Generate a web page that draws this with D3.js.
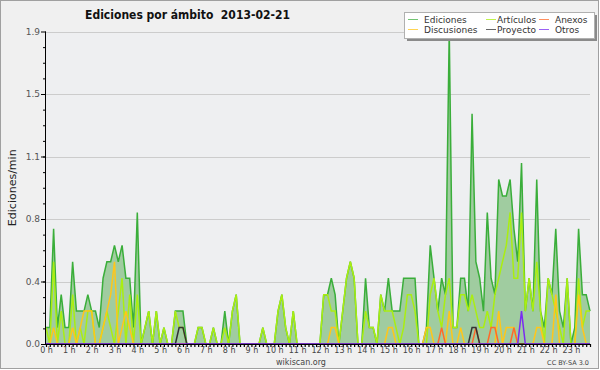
<!DOCTYPE html>
<html>
<head>
<meta charset="utf-8">
<script src="https://cdn.jsdelivr.net/npm/d3@7/dist/d3.min.js"></script>
<style>
  body { margin: 0; background: #fff; }
  text { font-family: "DejaVu Sans", sans-serif; }
</style>
</head>
<body>
<div id="chart"></div>
<script>
// one value every 10 minutes, edits per minute
var hours = ["0 h","1 h","2 h","3 h","4 h","5 h","6 h","7 h","8 h","9 h","10 h","11 h",
             "12 h","13 h","14 h","15 h","16 h","17 h","18 h","19 h","20 h","21 h","22 h","23 h"];

var ediciones = [
  0.1,0.1,0.7,0.1,0.3,0.1,0.1,0.5,0.2,0.2,0.2,0.3,
  0.2,0.2,0.1,0.4,0.5,0.5,0.6,0.5,0.6,0.4,0.4,0.1,
  0.8,0,0.1,0.2,0,0.2,0,0.1,0,0,0.2,0.2,
  0.2,0,0,0,0.1,0.1,0,0,0.1,0,0,0.2,
  0,0.2,0.3,0,0,0,0,0,0,0.1,0,0,
  0,0.2,0.3,0.1,0,0.2,0,0,0,0,0,0,
  0,0.3,0.3,0.4,0.3,0,0.2,0.4,0.5,0.4,0,0,
  0.4,0.1,0.1,0,0.3,0.2,0.4,0.2,0.2,0.2,0.4,0.4,
  0.4,0.4,0,0,0.1,0.6,0.4,0.2,0.4,0.3,1.9,0.1,
  0.1,0.4,0.4,0.2,1.4,0.5,0.4,0.2,0.8,0.4,0.3,1.0,
  0.9,0.9,1.0,0.7,0.5,1.1,0.2,0.4,0.2,1.0,0.2,0.1,
  0.4,0.3,0.7,0.2,0.1,0.4,0,0.1,0.7,0.3,0.3,0.2
];
var articulos = [
  0.1,0,0.5,0,0.2,0,0,0.3,0,0.1,0,0.2,
  0.2,0,0,0.1,0.2,0.1,0,0.2,0.4,0,0.3,0,
  0.3,0,0.1,0.2,0,0.2,0,0.1,0,0,0.2,0.1,
  0.1,0,0,0,0.1,0.1,0,0,0.1,0,0,0.1,
  0,0.2,0.3,0,0,0,0,0,0,0.1,0,0,
  0,0.2,0.3,0.1,0,0.2,0,0,0,0,0,0,
  0,0.3,0.3,0.2,0.2,0,0.2,0.4,0.5,0.4,0,0,
  0.2,0.1,0.1,0,0.3,0.2,0.2,0.2,0.1,0,0.1,0.3,
  0.3,0.2,0,0,0,0.3,0.4,0.2,0.1,0.3,0.4,0.1,
  0.1,0.3,0.3,0.2,0.3,0.2,0.1,0.1,0.2,0.1,0.3,0.4,
  0.5,0.6,0.8,0.4,0.4,0.8,0.2,0.4,0.2,0.5,0.2,0,
  0.4,0.3,0.2,0.1,0,0.4,0,0,0.4,0.1,0.2,0.2
];
var discusiones = [
  0,0,0.1,0,0,0,0,0.1,0,0.1,0.2,0.2,
  0.2,0,0,0.1,0.2,0.3,0.5,0,0.1,0.2,0.1,0,
  0,0,0,0,0,0,0,0,0,0,0,0,
  0,0,0,0,0,0,0,0,0,0,0,0,
  0,0,0,0,0,0,0,0,0,0,0,0,
  0,0,0,0,0,0,0,0,0,0,0,0,
  0,0,0,0.1,0.1,0,0,0,0,0,0,0,
  0,0,0,0,0,0,0.1,0.1,0,0,0,0,
  0,0,0,0,0.1,0.1,0,0,0,0,0.2,0,
  0,0.1,0,0,0,0,0,0,0,0,0,0.2,
  0,0.1,0.1,0.1,0,0,0,0,0,0.1,0.1,0,
  0,0,0.3,0,0,0,0,0,0.3,0.1,0,0
];
var anexos = [
  0,0,0,0,0,0,0,0,0,0,0,0,
  0,0,0,0,0,0,0,0,0,0,0,0,
  0,0,0,0,0,0,0,0,0,0,0,0,
  0,0,0,0,0,0,0,0,0,0,0,0,
  0,0,0,0,0,0,0,0,0,0,0,0,
  0,0,0,0,0,0,0,0,0,0,0,0,
  0,0,0,0,0,0,0,0,0,0,0,0,
  0,0,0,0,0,0,0,0,0,0,0,0,
  0,0,0,0,0,0,0,0,0.1,0,0,0,
  0,0,0,0,0,0.1,0,0,0,0.1,0.1,0,
  0,0,0,0.1,0,0,0,0,0,0,0,0,
  0,0,0,0,0,0,0,0,0,0,0,0
];
var proyecto = [
  0,0,0,0,0,0,0,0,0,0,0,0,
  0,0,0,0,0,0,0,0,0,0,0,0,
  0,0,0,0,0,0,0,0,0,0,0,0.1,
  0.1,0,0,0,0,0,0,0,0,0,0,0,
  0,0,0,0,0,0,0,0,0,0,0,0,
  0,0,0,0,0,0,0,0,0,0,0,0,
  0,0,0,0,0,0,0,0,0,0,0,0,
  0,0,0,0,0,0,0,0,0,0,0,0,
  0,0,0,0,0,0,0,0,0,0,0,0,
  0,0,0,0,0.1,0.1,0,0,0,0,0,0,
  0,0,0,0,0,0,0,0,0,0,0,0,
  0,0,0,0,0,0,0,0,0,0,0,0
];
var otros = [
  0,0,0,0,0,0,0,0,0,0,0,0,
  0,0,0,0,0,0,0,0,0,0,0,0,
  0,0,0,0,0,0,0,0,0,0,0,0,
  0,0,0,0,0,0,0,0,0,0,0,0,
  0,0,0,0,0,0,0,0,0,0,0,0,
  0,0,0,0,0,0,0,0,0,0,0,0,
  0,0,0,0,0,0,0,0,0,0,0,0,
  0,0,0,0,0,0,0,0,0,0,0,0,
  0,0,0,0,0,0,0,0,0,0,0,0,
  0,0,0,0,0,0,0,0,0,0,0,0,
  0,0,0,0,0,0.2,0,0,0,0,0,0,
  0,0,0,0,0,0,0,0,0,0,0,0
];
var yTicks = [0, 0.38, 0.76, 1.14, 1.52, 1.9];

var series = [
  {name: "Artículos",   values: articulos,   color: "#aaee11"},
  {name: "Discusiones", values: discusiones, color: "#ffc61a"},
  {name: "Anexos",      values: anexos,      color: "#ff6a2a"},
  {name: "Proyecto",    values: proyecto,    color: "#333333"},
  {name: "Otros",       values: otros,       color: "#7a2cf0"}
];
// legend order, three columns
var legendItems = [
  {name: "Ediciones",   color: "#44b044"},
  {name: "Discusiones", color: "#ffc61a"},
  {name: "Artículos",   color: "#aaee11"},
  {name: "Proyecto",    color: "#333333"},
  {name: "Anexos",      color: "#ff6a2a"},
  {name: "Otros",       color: "#7a2cf0"}
];


EditChart = function(_parentElement){
  this.parentElement = _parentElement;
  this.initVis();
}

EditChart.prototype.initVis = function() {
  var vis = this;

  vis.width = 600;
  vis.height = 370;
  vis.left = 46; vis.right = 590; vis.top = 31.5; vis.bottom = 344;

  vis.svg = d3.select("#" + vis.parentElement).append("svg")
    .attr("width", vis.width)
    .attr("height", vis.height);

  vis.svg.append("rect")
    .attr("x", 0.5).attr("y", 0.5)
    .attr("width", 598).attr("height", 368)
    .attr("fill", "#f0f0f0")
    .attr("stroke", "#a0a0a0");

  vis.x = d3.scaleLinear().domain([0, ediciones.length - 1]).range([vis.left, vis.right]);
  vis.y = d3.scaleLinear().domain([0, 1.9]).range([vis.bottom, vis.top]);

  vis.svg.append("rect")
    .attr("x", vis.left).attr("y", vis.top)
    .attr("width", vis.right - vis.left).attr("height", vis.bottom - vis.top)
    .attr("fill", "#eeeff1");

  // grid
  vis.svg.append("g").selectAll("line")
    .data(yTicks.slice(1))
    .enter().append("line")
    .attr("x1", vis.left).attr("x2", vis.right)
    .attr("y1", function(d){ return Math.round(vis.y(d)) + 0.5; })
    .attr("y2", function(d){ return Math.round(vis.y(d)) + 0.5; })
    .attr("stroke", "#cccccc");

  var area = d3.area()
    .x(function(d, i){ return vis.x(i); })
    .y0(vis.y(0))
    .y1(function(d){ return vis.y(d); });

  var line = d3.line()
    .x(function(d, i){ return vis.x(i); })
    .y(function(d){ return vis.y(d); });

  vis.svg.append("path")
    .datum(ediciones)
    .attr("d", area)
    .attr("fill", "#a0cca0");

  vis.svg.append("path")
    .datum(ediciones)
    .attr("d", line)
    .attr("fill", "none")
    .attr("stroke", "#3aae3a")
    .attr("stroke-width", 1.5);

  vis.svg.append("g").selectAll("path")
    .data(series)
    .enter().append("path")
    .attr("d", function(d){ return line(d.values); })
    .attr("fill", "none")
    .attr("stroke", function(d){ return d.color; })
    .attr("stroke-width", 1.5);

  // y axis
  var yAxis = d3.axisLeft(vis.y)
    .tickValues(yTicks)
    .tickSize(5)
    .tickPadding(1)
    .tickFormat(d3.format(".1f"));
  var yMinor = d3.axisLeft(vis.y)
    .tickValues(d3.range(0, 1.9, 0.095))
    .tickSize(3)
    .tickFormat("");

  vis.svg.append("g")
    .attr("transform", "translate(" + vis.left + ",0)")
    .call(yMinor)
    .call(function(g){ g.select(".domain").remove(); });
  var gy = vis.svg.append("g")
    .attr("transform", "translate(" + vis.left + ",0)")
    .call(yAxis);
  gy.select(".domain").attr("d", "M-0.5," + vis.top + "V" + vis.bottom);
  gy.selectAll("text").attr("font-size", 9).attr("fill", "#555")
    .attr("font-family", "DejaVu Sans");

  // x axis, one tick per 10 minutes
  var xAxis = d3.axisBottom(vis.x)
    .tickValues(d3.range(0, ediciones.length))
    .tickSize(3)
    .tickPadding(0)
    .tickFormat(function(d){ return d % 6 === 0 ? hours[d / 6] : ""; });
  var gx = vis.svg.append("g")
    .attr("transform", "translate(0," + vis.bottom + ")")
    .call(xAxis);
  gx.select(".domain").attr("d", "M" + vis.left + ",0.5H" + vis.right);
  gx.selectAll("line").attr("stroke-width", 1.2);
  gx.selectAll("text").attr("font-size", 8).attr("fill", "#444")
    .attr("font-family", "DejaVu Sans");

  // labels
  vis.svg.append("text")
    .attr("transform", "translate(16," + ((vis.top + vis.bottom) / 2) + ") rotate(-90)")
    .attr("text-anchor", "middle")
    .attr("font-family", "DejaVu Sans Mono")
    .attr("font-size", 11)
    .attr("fill", "#222")
    .text("Ediciones/min");

  vis.svg.append("text")
    .attr("x", 187.5).attr("y", 19)
    .attr("text-anchor", "middle")
    .attr("font-family", "DejaVu Sans Condensed, DejaVu Sans")
    .attr("font-stretch", "condensed")
    .attr("font-weight", "bold")
    .attr("font-size", 12)
    .attr("fill", "#111")
    .text("Ediciones por ámbito  2013-02-21")
    .style("white-space", "pre");

  vis.svg.append("text")
    .attr("x", 301).attr("y", 365)
    .attr("text-anchor", "middle")
    .attr("font-size", 8)
    .attr("fill", "#444")
    .text("wikiscan.org");

  vis.svg.append("text")
    .attr("x", 589).attr("y", 365)
    .attr("text-anchor", "end")
    .attr("font-size", 6.5)
    .attr("fill", "#444")
    .text("CC BY-SA 3.0");

  // legend
  var lg = vis.svg.append("g");
  lg.append("rect")
    .attr("x", 407).attr("y", 15).attr("width", 190).attr("height", 26)
    .attr("fill", "#8a8a8a");
  lg.append("rect")
    .attr("x", 404.5).attr("y", 12.5).attr("width", 190).attr("height", 26)
    .attr("fill", "#ffffff").attr("stroke", "#b0b0b0");

  var colX = [408, 486, 539];
  var item = lg.selectAll("g.item")
    .data(legendItems)
    .enter().append("g")
    .attr("transform", function(d, i){
      return "translate(" + colX[Math.floor(i / 2)] + "," + (19.5 + (i % 2) * 10) + ")";
    });
  item.append("line")
    .attr("x1", 0).attr("x2", 10)
    .attr("stroke", function(d){ return d.color; })
    .attr("stroke-opacity", 0.75);
  item.append("text")
    .attr("x", function(d, i){ return i < 2 ? 16 : (i < 4 ? 11 : 16); })
    .attr("y", 3)
    .attr("font-size", 9)
    .attr("fill", "#333")
    .text(function(d){ return d.name; });
};

new EditChart("chart");
</script>
</body>
</html>
